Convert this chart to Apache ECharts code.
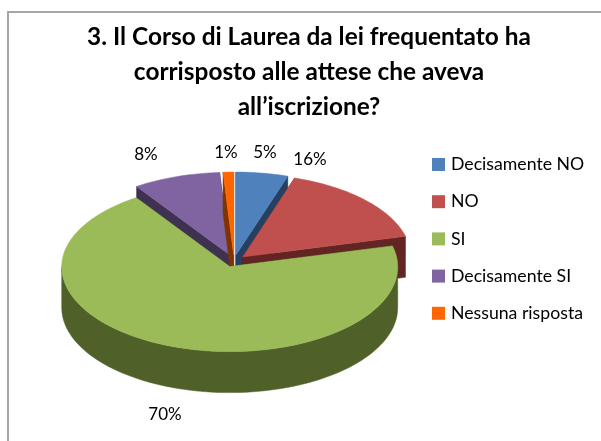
<!DOCTYPE html>
<html><head><meta charset="utf-8">
<style>html,body{margin:0;padding:0;background:#fff}#c{width:601px;height:441px}</style>
<script src="https://cdn.jsdelivr.net/npm/echarts@6/dist/echarts.min.js"></script>
</head><body><div id="c"></div>
<script>
const categories = ['Decisamente NO','NO','SI','Decisamente SI','Nessuna risposta'];
const values = [5,16,69.6,8.4,1];
const topColors = ['#4f81bd','#c0504d','#9bbb59','#8064a2','#ff6600'];
const wallColors = ['#254061','#632523','#4f6128','#3f3151','#7f3300'];
const paintOrder = [3,4,5,1,2];
const labelAnchors = [[265,153],[310,160],[165,415],[146,155],[226,153]];

const CX=234, CY=261, RX=168, RY_FRONT=85, RY_BACK=83, DEPTH=41, EX=12, EY=6;
const total = values.reduce((a,b)=>a+b,0);
const startDeg = []; values.reduce((acc,v,i)=>{startDeg[i]=acc/total*360;return acc+v;},0);
const rad = d=>d*Math.PI/180;
function pt(c,d,dy){const k=Math.cos(rad(d));return [c[0]+RX*Math.sin(rad(d)), c[1]-(k>0?RY_BACK:RY_FRONT)*k+(dy||0)];}
function arc(c,a,b,dy){const n=Math.max(2,Math.ceil(Math.abs(b-a)/2)),o=[];for(let i=0;i<=n;i++)o.push(pt(c,a+(b-a)*i/n,dy));return o;}

function sliceRenderer(i){
  return function(){
    const a=startDeg[i], b=a+values[i]/total*360, m=rad((a+b)/2);
    const c=[CX+EX*Math.sin(m), CY-EY*Math.cos(m)];
    const ch=[];
    const poly=(points,fill)=>({type:'polygon',shape:{points},style:{fill,stroke:fill,lineWidth:0.5},silent:true});
    const down=[c[0],c[1]+DEPTH];
    ch.push(poly([c,pt(c,a),pt(c,a,DEPTH),down],wallColors[i]));
    ch.push(poly([c,pt(c,b),pt(c,b,DEPTH),down],wallColors[i]));
    const fa=Math.max(a,90), fb=Math.min(b,270);
    if(fb>fa) ch.push(poly(arc(c,fa,fb,0).concat(arc(c,fb,fa,DEPTH)),wallColors[i]));
    ch.push(poly([c].concat(arc(c,a,b,0)),topColors[i]));
    ch.push({type:'text',silent:true,style:{text:Math.round(values[i])+'%',x:labelAnchors[i][0],y:labelAnchors[i][1],
      align:'center',verticalAlign:'middle',font:'17px Lato',fill:'#000'}});
    return {type:'group',children:ch};
  };
}

const chart = echarts.init(document.getElementById('c'),null,{renderer:'canvas'});
chart.setOption({
  animation:false,
  backgroundColor:'#fff',
  title:{text:'3. Il Corso di Laurea da lei frequentato ha\ncorrisposto alle attese che aveva\nall\u2019iscrizione?',
    left:304,top:15,textAlign:'center',
    textStyle:{fontFamily:'Lato',fontWeight:'bold',fontSize:24.4,lineHeight:35,color:'#000'}},
  legend:{orient:'vertical',left:432,top:155.5,padding:0,itemWidth:13,itemHeight:13,itemGap:19.2,icon:'rect',
    textStyle:{fontFamily:'Lato',fontSize:17.7,color:'#000',padding:[0,0,0,1]},
    data:categories,selectedMode:false},
  graphic:[{type:'polyline',silent:true,shape:{points:[[8,441],[8,12],[601,12]]},
    style:{stroke:'#a6a6a6',lineWidth:2,fill:null}}],
  series:categories.map((name,i)=>({
    type:'custom',name,coordinateSystem:'none',z:paintOrder[i],
    itemStyle:{color:topColors[i]},
    data:[[values[i]]],
    renderItem:sliceRenderer(i),
    silent:true
  }))
});
</script></body></html>
